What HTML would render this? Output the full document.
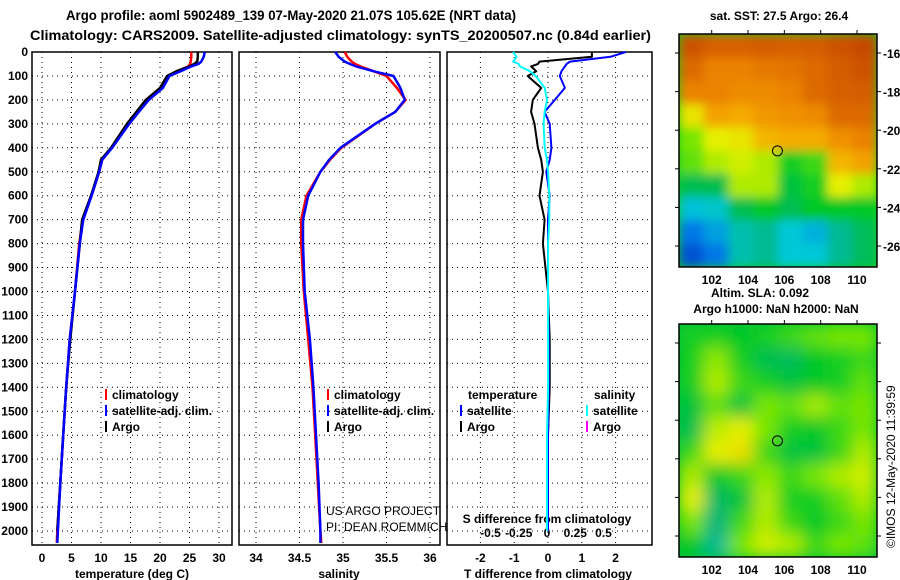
<!DOCTYPE html>
<html><head><meta charset="utf-8">
<style>
html,body{margin:0;padding:0;background:#fff;}
svg{display:block;font-family:"Liberation Sans",sans-serif;}
.t{font-weight:bold;font-size:14px;}
.k{font-weight:bold;font-size:12px;}
</style></head>
<body>
<svg id="fig" width="900" height="580" viewBox="0 0 900 580">
<defs>
<filter id="blur1" x="0" y="0" width="100%" height="100%"><feGaussianBlur stdDeviation="5" edgeMode="duplicate"/></filter>
<filter id="blur2" x="0" y="0" width="100%" height="100%"><feGaussianBlur stdDeviation="8" edgeMode="duplicate"/></filter>
<clipPath id="c1"><rect x="679" y="34" width="198" height="233"/></clipPath>
<clipPath id="c2"><rect x="679" y="324" width="198" height="233"/></clipPath>
</defs>
<text class="t" x="66" y="20" textLength="450" lengthAdjust="spacingAndGlyphs">Argo profile: aoml 5902489_139 07-May-2020 21.07S 105.62E (NRT data)</text>
<text class="t" x="30" y="40" textLength="621" lengthAdjust="spacingAndGlyphs">Climatology: CARS2009. Satellite-adjusted climatology: synTS_20200507.nc (0.84d earlier)</text>
<g id="g"></g>
</svg>
<script>
// ---- data ----
const depthTicks = [0,100,200,300,400,500,600,700,800,900,1000,1100,1200,1300,1400,1500,1600,1700,1800,1900,2000];
const tempTicks = [0,5,10,15,20,25,30];
const salTicks = [34,34.5,35,35.5,36];
const tdTicks = [-2,-1,0,1,2];
const sdTicks = [-0.5,-0.25,0,0.25,0.5];
const sdTickLabels = ['-0.5','-0.25','0','0.25','0.5'];
const profDepth = [0,20,40,50,60,80,100,150,200,250,300,400,450,500,600,700,800,1000,1200,1400,1600,1800,2000,2050];
const tempClim = [25.3,25.3,25.2,25.1,24.8,23,21.4,20.1,17.8,16.2,14.6,11.8,10.2,9.7,8.4,6.9,6.3,5.6,4.7,4.1,3.6,3.1,2.6,2.5];
const tempSat  = [27.6,27.4,27.0,26.5,25.3,23.5,21.6,20.5,18.1,16.4,14.8,11.9,10.2,9.7,8.4,7.0,6.4,5.6,4.7,4.1,3.6,3.1,2.7,2.6];
const tempArgo = [26.4,26.4,26.3,25.8,25.0,22.8,21.2,20.0,17.6,16.0,14.4,11.7,10.0,9.6,8.3,6.8,6.4,5.6,4.8,4.1,3.6,3.1,2.6,null];
const salClim = [35.02,35.05,35.1,35.14,35.2,35.35,35.5,35.62,35.72,35.6,35.37,34.98,34.85,34.74,34.58,34.52,34.52,34.55,34.6,34.65,34.68,34.71,34.74,34.75];
const salSat  = [34.91,34.95,35.02,35.08,35.15,35.35,35.58,35.66,35.71,35.6,35.37,34.97,34.84,34.74,34.6,34.54,34.54,34.56,34.62,34.66,34.69,34.72,34.74,34.74];
const tdArgo = [1.3,1.3,-0.25,-0.3,-0.5,-0.35,-0.6,-0.2,-0.45,-0.5,-0.4,-0.3,-0.2,-0.15,-0.25,-0.1,-0.15,0,0.05,0.05,0,0,0,null];
const tdSat  = [2.3,1.85,0.65,0.55,0.5,0.4,0.35,0.5,0.2,-0.1,0.05,0.1,0.05,-0.05,0.05,0,0,0,0.02,0.02,0,0,0,null];
const sdSat  = [-0.3,-0.27,-0.3,-0.25,-0.24,-0.15,-0.1,-0.02,0.0,-0.02,-0.03,-0.02,0,0.01,0.02,0.02,0.01,0.01,0.01,0.01,0,0,0,null];
const sstGrid = [
[0.95,0.92,0.92,0.93,0.92,0.93,0.95,0.97],
[0.9,0.85,0.85,0.87,0.88,0.9,0.93,0.95],
[0.85,0.85,0.82,0.82,0.85,0.9,0.92,0.93],
[0.62,0.75,0.72,0.78,0.8,0.82,0.9,0.9],
[0.5,0.6,0.62,0.7,0.72,0.72,0.8,0.85],
[0.48,0.55,0.58,0.55,0.42,0.45,0.7,0.75],
[0.36,0.36,0.55,0.55,0.38,0.42,0.6,0.55],
[0.24,0.26,0.36,0.4,0.36,0.4,0.4,0.4],
[0.15,0.2,0.28,0.3,0.25,0.22,0.3,0.35],
[0.08,0.15,0.28,0.3,0.25,0.25,0.3,0.35]];
const slaGrid = [
[0.42,0.42,0.4,0.42,0.45,0.48,0.5,0.5],
[0.42,0.52,0.42,0.36,0.35,0.4,0.42,0.45],
[0.42,0.55,0.45,0.42,0.38,0.4,0.42,0.48],
[0.38,0.48,0.38,0.5,0.48,0.54,0.48,0.5],
[0.36,0.56,0.6,0.5,0.42,0.4,0.45,0.5],
[0.45,0.6,0.63,0.45,0.38,0.38,0.45,0.55],
[0.55,0.4,0.45,0.52,0.45,0.5,0.55,0.58],
[0.6,0.34,0.38,0.55,0.42,0.42,0.48,0.55],
[0.5,0.32,0.45,0.55,0.45,0.4,0.45,0.5],
[0.4,0.3,0.5,0.58,0.55,0.45,0.5,0.48]];
const lonTicks = [102,104,106,108,110];
const latTicks = [-16,-18,-20,-22,-24,-26];
const argoLon = 105.62, argoLat = -21.07;

// ---- helpers ----
const NS='http://www.w3.org/2000/svg';
const G=document.getElementById('g');
function mk(tag,attrs,parent){const e=document.createElementNS(NS,tag);for(const k in attrs)e.setAttribute(k,attrs[k]);(parent||G).appendChild(e);return e;}
const pTop=52, pBot=545;
const yD = d => pTop + d*0.2395;
const xT = v => 42 + v*5.9;
const xS = v => 256 + (v-34)*87;
const xTD = v => 548 + v*33.8;
const xSD = v => 547 + v*113;
const panels=[[32,232],[239,440],[447,652]];

panels.forEach((p,i)=>{
  const r=mk('rect',{x:p[0],y:pTop,width:p[1]-p[0],height:pBot-pTop,fill:'#fff',stroke:'#000','stroke-width':1.5});
  
  
  depthTicks.forEach(d=>{
    if(d===0)return;
    const l=mk('line',{x1:p[0],x2:p[1],y1:yD(d),y2:yD(d),stroke:'#000','stroke-dasharray':'1 4'});
    
    
  });
});
depthTicks.forEach(d=>{
  const t=mk('text',{x:28,y:yD(d)+4,'text-anchor':'end',class:'k'});
  t.textContent=d;
  
  
});
function xAxis(ticks,fx,prefix){
  ticks.forEach((v,i)=>{
    const x=fx(v);
    const l=mk('line',{x1:x,x2:x,y1:pTop,y2:pBot,stroke:'#000','stroke-dasharray':'1 4'});
    
    
    const t=mk('text',{x:x,y:562,'text-anchor':'middle',class:'k'});
    t.textContent=v;
    
    
  });
}
xAxis(tempTicks,xT,'temp');
xAxis(salTicks,xS,'sal');
xAxis(tdTicks,xTD,'tdiff');
sdTicks.forEach((v,i)=>{
  const t=mk('text',{x:xSD(v),y:537,'text-anchor':'middle',class:'k'});
  t.textContent=sdTickLabels[i];
  
  
});
[['temperature (deg C)',132],['salinity',339],['T difference from climatology',548]].forEach(a=>{
  const t=mk('text',{x:a[1],y:578,'text-anchor':'middle',class:'k'});
  t.textContent=a[0];
  
  
});
const st=mk('text',{x:547,y:523,'text-anchor':'middle',class:'k'});
st.textContent='S difference from climatology';



function line(vals,fx,color,w,name){
  let d='';
  vals.forEach((v,i)=>{ if(v===null)return; d+=(d?'L':'M')+fx(v).toFixed(1)+','+yD(profDepth[i]).toFixed(1); });
  const p=mk('path',{d:d,fill:'none',stroke:color,'stroke-width':w,'stroke-linejoin':'round'});
  
  
}
line(tempClim,xT,'#f00',2.5,'temp-climatology-line');
line(tempArgo,xT,'#000',2.5,'temp-argo-line');
line(tempSat,xT,'#00f',2.5,'temp-satellite-line');
line(salClim,xS,'#f00',2.5,'sal-climatology-line');
line(salSat,xS,'#00f',2.5,'sal-satellite-line');
line(tdArgo,xTD,'#000',2,'tdiff-argo-line');
line(tdSat,xTD,'#00f',2,'tdiff-satellite-line');
line(sdSat,xSD,'#0ff',2,'sdiff-satellite-line');

function leg(x,y,color,text,name){
  const l=mk('line',{x1:x,x2:x,y1:y-10,y2:y+1,stroke:color,'stroke-width':2});
  
  
  const t=mk('text',{x:x+6,y:y,class:'k'});
  t.textContent=text;
  
  
}
leg(106,399,'#f00','climatology','legend-climatology');
leg(106,415,'#00f','satellite-adj. clim.','legend-satellite');
leg(106,431,'#000','Argo','legend-argo');
leg(328,399,'#f00','climatology','legend-climatology-2');
leg(328,415,'#00f','satellite-adj. clim.','legend-satellite-2');
leg(328,431,'#000','Argo','legend-argo-2');
leg(461,415,'#00f','satellite','legend-t-satellite');
leg(461,431,'#000','Argo','legend-t-argo');
leg(587,415,'#0ff','satellite','legend-s-satellite');
leg(587,431,'#f0f','Argo','legend-s-argo');
[['temperature',468],['salinity',594]].forEach(a=>{
  const t=mk('text',{x:a[1],y:399,class:'k'});t.textContent=a[0];
  
  
});
[['US ARGO PROJECT',326,515],['PI: DEAN ROEMMICH',326,531]].forEach(a=>{
  const t=mk('text',{x:a[1],y:a[2],'font-size':'12px'});t.textContent=a[0];
  
  
});

const stops=[[0,[0,40,190]],[0.15,[0,120,230]],[0.25,[0,200,215]],[0.32,[0,180,120]],[0.4,[0,200,40]],[0.5,[120,230,0]],[0.6,[230,240,0]],[0.72,[245,170,0]],[0.85,[235,130,0]],[1,[190,60,0]]];
function cmap(v){
  for(let i=1;i<stops.length;i++){ if(v<=stops[i][0]){const a=stops[i-1],b=stops[i],t=(v-a[0])/(b[0]-a[0]);
    return 'rgb('+a[1].map((c,j)=>Math.round(c+(b[1][j]-c)*t)).join(',')+')';}}
  return 'rgb(190,60,0)';
}
const mx0=679,mw=198,mh=233;
const xL = lon => mx0 + (lon-100.2)*(mw/(111.1-100.2));
function drawMap(grid,y0,clip,filt,name,showLat){
  const g=mk('g',{'clip-path':'url(#'+clip+')'});
  
  
  mk('rect',{x:mx0,y:y0,width:mw,height:mh,fill:cmap(grid[5][4])},g);
  const inner=mk('g',{filter:'url(#'+filt+')'},g);
  const rows=grid.length, cols=grid[0].length, cw=mw/cols, ch=mh/rows;
  grid.forEach((row,r)=>row.forEach((v,c)=>{
    const cell=mk('rect',{x:mx0+c*cw,y:y0+r*ch,width:cw+0.5,height:ch+0.5,fill:cmap(v)},inner);
    
    
  }));
  const yL = lat => y0 + 19 + (-16-lat)*(193/10);
  const fr=mk('rect',{x:mx0,y:y0,width:mw,height:mh,fill:'none',stroke:'#000','stroke-width':1.5});
  
  
  lonTicks.forEach(l=>{
    mk('line',{x1:xL(l),x2:xL(l),y1:y0-4,y2:y0,stroke:'#000'});
    const t=mk('text',{x:xL(l),y:y0+mh+17,'text-anchor':'middle',class:'k'});t.textContent=l;
    
    
  });
  latTicks.forEach(l=>{
    mk('line',{x1:mx0-4,x2:mx0,y1:yL(l),y2:yL(l),stroke:'#000'});
    mk('line',{x1:mx0+mw,x2:mx0+mw+4,y1:yL(l),y2:yL(l),stroke:'#000'});
    if(showLat){
      const t=mk('text',{x:mx0+mw+6,y:yL(l)+5,class:'k'});t.textContent=l;
      
      
    }
  });
  const c=mk('circle',{cx:xL(argoLon),cy:yL(argoLat),r:5,fill:'none',stroke:'#000','stroke-width':1});
  
  
}
drawMap(sstGrid,34,'c1','blur1','sst-map',true);
drawMap(slaGrid,324,'c2','blur2','sla-map',false);
[['sat. SST: 27.5 Argo: 26.4',779,20],['Altim. SLA: 0.092',760,297],['Argo h1000: NaN h2000: NaN',776,313]].forEach(a=>{
  const t=mk('text',{x:a[1],y:a[2],'text-anchor':'middle',class:'k'});t.textContent=a[0];
  
  
});
const cr=mk('text',{x:0,y:0,'font-size':'12px',transform:'translate(895,548) rotate(-90)'});
cr.textContent='©IMOS 12-May-2020 11:39:59';


</script>
</body></html>
